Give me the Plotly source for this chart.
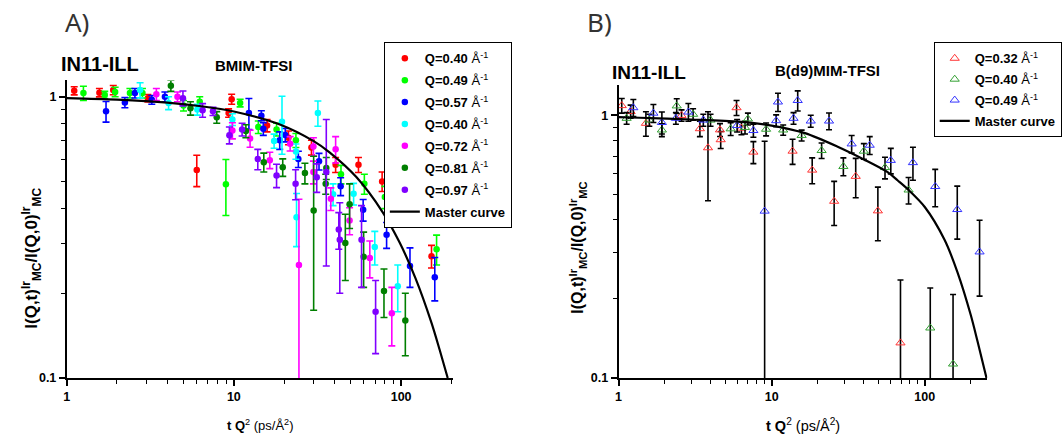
import plotly.graph_objects as go

FONT = "Liberation Sans, Arial, sans-serif"

# ---------------- Panel A data (BMIM-TFSI) ----------------
a_red_x = [1.11, 1.57, 1.9, 3.06, 6.0, 9.3, 9.7, 15.8, 21.2, 29.1, 40.6, 55.6, 77, 152]
a_red_y = [1.05, 1.034, 1.056, 0.988, 0.549, 0.875, 0.98, 0.79, 0.715, 0.66, 0.573, 0.573, 0.50, 0.271]
a_red_e = [0.035, 0.035, 0.04, 0.03, 0.07, 0.03, 0.04, 0.04, 0.04, 0.04, 0.035, 0.035, 0.04, 0.025]

a_grn_x = [1.26, 1.69, 1.95, 2.39, 2.84, 5.0, 6.25, 8.96, 10.9, 14.0, 18.0, 23.5, 43.7, 60.3, 80, 163]
a_grn_y = [1.03, 1.015, 1.04, 1.03, 1.03, 0.93, 0.96, 0.488, 0.95, 0.78, 0.765, 0.70, 0.53, 0.49, 0.44, 0.287]
a_grn_e = [0.06, 0.03, 0.04, 0.04, 0.04, 0.04, 0.04, 0.11, 0.03, 0.04, 0.04, 0.04, 0.04, 0.04, 0.04, 0.035]

a_blu_x = [1.72, 2.23, 2.56, 3.23, 3.87, 12.3, 14.6, 15.0, 18.8, 20.3, 24.3, 32.3, 43.5, 59.3, 81.9, 113, 159]
a_blu_y = [0.887, 0.954, 1.03, 0.975, 1.0, 0.875, 0.856, 0.769, 0.70, 0.731, 0.60, 0.589, 0.48, 0.396, 0.323, 0.25, 0.228]
a_blu_e = [0.075, 0.04, 0.04, 0.035, 0.04, 0.11, 0.035, 0.04, 0.05, 0.04, 0.04, 0.04, 0.035, 0.035, 0.034, 0.04, 0.04]

a_cyn_x = [2.75, 4.07, 6.05, 9.8, 17.4, 19.4, 23.5, 23.7, 31.8, 39.2, 52, 69.6, 95.5]
a_cyn_y = [1.056, 0.95, 0.90, 0.83, 0.696, 0.814, 0.639, 0.373, 0.875, 0.45, 0.452, 0.292, 0.212]
a_cyn_e = [0.065, 0.05, 0.04, 0.04, 0.04, 0.19, 0.04, 0.08, 0.09, 0.04, 0.04, 0.04, 0.04]

a_mag_x = [3.44, 4.6, 9.8, 12.5, 16.4, 21.7, 24.5, 29.9, 29.9, 38, 40.6, 49.2, 65, 88]
a_mag_y = [1.02, 1.0, 0.758, 0.711, 0.595, 0.681, 0.252, 0.665, 0.54, 0.434, 0.651, 0.363, 0.267, 0.17]
a_mag_e = [0.05, 0.04, 0.05, 0.05, 0.04, 0.04, 0.18, 0.05, 0.05, 0.04, 0.07, 0.04, 0.04, 0.04]

a_dkg_x = [4.2, 5.5, 7.9, 11.8, 15.1, 19.6, 26.6, 30.0, 35.4, 35.7, 46.4, 49.2, 59.7, 79, 106]
a_dkg_y = [1.095, 0.91, 0.845, 0.755, 0.585, 0.561, 0.535, 0.394, 0.49, 0.558, 0.302, 0.415, 0.27, 0.204, 0.16]
a_dkg_e = [0.05, 0.05, 0.04, 0.04, 0.045, 0.04, 0.045, 0.22, 0.04, 0.05, 0.08, 0.075, 0.06, 0.04, 0.04]

a_pur_x = [4.96, 6.5, 7.5, 9.4, 11.2, 13.9, 18.0, 23.4, 31.3, 35.7, 42.4, 43.0, 58, 70.4]
a_pur_y = [0.988, 0.895, 0.887, 0.73, 0.765, 0.60, 0.525, 0.49, 0.517, 0.54, 0.337, 0.31, 0.31, 0.172]
a_pur_e = [0.06, 0.05, 0.03, 0.05, 0.04, 0.05, 0.05, 0.06, 0.06, 0.29, 0.05, 0.11, 0.10, 0.05]

a_master_x = [1, 2, 4, 6.4, 10, 19, 30, 37.5, 54, 77.5, 98, 122, 152, 170, 190]
a_master_y = [0.988, 0.976, 0.953, 0.925, 0.886, 0.795, 0.695, 0.633, 0.518, 0.389, 0.303, 0.226, 0.157, 0.126, 0.10]

a_labels = ["0.40", "0.49", "0.57", "0.40", "0.72", "0.81", "0.97"]
a_colors = ["#ff0000", "#00ff00", "#0000ff", "#00ffff", "#ff00ff", "#007f00", "#7f00ff"]

# ---------------- Panel B data (B(d9)MIM-TFSI) ----------------
b_red_x = [1.05, 1.2, 1.51, 2.58, 3.4, 3.84, 4.6, 4.65, 5.9, 6.35, 7.6, 13.7, 18.4, 25.6, 35.4, 49.4, 69.4]
b_red_y = [1.09, 1.035, 0.933, 1.0, 0.89, 0.753, 0.881, 0.808, 1.07, 0.894, 0.725, 0.731, 0.619, 0.471, 0.586, 0.433, 0.136]
b_red_e = [0.07, 0.06, 0.1, 0.05, 0.06, 0.28, 0.05, 0.06, 0.07, 0.05, 0.07, 0.08, 0.07, 0.09, 0.1, 0.1, 0.1]

b_grn_x = [1.13, 1.59, 1.92, 2.4, 3.07, 3.99, 5.4, 6.7, 7.0, 9.2, 11.9, 15.7, 21.2, 29.4, 40, 55, 78.4, 108.6, 153]
b_grn_y = [0.975, 0.96, 0.88, 1.087, 1.01, 0.96, 0.889, 0.90, 0.97, 0.886, 0.88, 0.839, 0.735, 0.639, 0.731, 0.633, 0.52, 0.155, 0.113]
b_grn_e = [0.05, 0.05, 0.05, 0.07, 0.05, 0.05, 0.05, 0.05, 0.05, 0.05, 0.04, 0.04, 0.05, 0.05, 0.05, 0.06, 0.06, 0.065, 0.095]

b_blu_x = [1.25, 1.69, 1.92, 2.37, 2.86, 3.58, 5.95, 7.6, 9.0, 10.7, 11.0, 13.9, 14.8, 18.0, 23.7, 33.3, 43.7, 60, 83.7, 117, 163, 228]
b_blu_y = [1.07, 1.02, 0.94, 0.975, 1.03, 0.96, 0.915, 0.876, 0.432, 0.955, 1.125, 0.975, 1.14, 0.952, 0.952, 0.779, 0.77, 0.674, 0.661, 0.536, 0.438, 0.302]
b_blu_e = [0.08, 0.08, 0.09, 0.05, 0.08, 0.05, 0.05, 0.05, 0.365, 0.05, 0.09, 0.05, 0.1, 0.05, 0.07, 0.06, 0.06, 0.075, 0.095, 0.087, 0.1, 0.097]

b_master_x = [1, 1.37, 3, 6.1, 10, 16.5, 27, 40, 57.5, 66.6, 78.4, 100, 134.6, 163.8, 199.5, 221, 253]
b_master_y = [0.985, 0.98, 0.965, 0.947, 0.915, 0.856, 0.76, 0.68, 0.607, 0.565, 0.52, 0.448, 0.336, 0.252, 0.174, 0.138, 0.10]

b_labels = ["0.32", "0.40", "0.49"]
b_colors = ["#ff3333", "#33a033", "#3333ff"]

x_ticks = [1, 10, 100]
x_minor = [2, 3, 4, 5, 6, 7, 8, 9, 20, 30, 40, 50, 60, 70, 80, 90, 200]
y_ticks = [0.1, 1]
y_minor = [0.2, 0.3, 0.4, 0.5, 0.6, 0.7, 0.8, 0.9]

fig = go.Figure()

a_sets = [(a_red_x, a_red_y, a_red_e), (a_grn_x, a_grn_y, a_grn_e), (a_blu_x, a_blu_y, a_blu_e),
          (a_cyn_x, a_cyn_y, a_cyn_e), (a_mag_x, a_mag_y, a_mag_e), (a_dkg_x, a_dkg_y, a_dkg_e),
          (a_pur_x, a_pur_y, a_pur_e)]
for i, ((xs, ys, es), lab, col) in enumerate(zip(a_sets, a_labels, a_colors)):
    fig.add_trace(go.Scatter(
        x=xs, y=ys, mode="markers", xaxis="x", yaxis="y",
        marker=dict(color=col, size=6.5, symbol="circle"),
        error_y=dict(type="data", array=es, color=col, thickness=1.6, width=3.5),
        name=f"<b>Q={lab}</b> Å<sup>-1</sup>", legend="legend", legendgroup=f"a{i}"))
fig.add_trace(go.Scatter(x=a_master_x, y=a_master_y, mode="lines", xaxis="x", yaxis="y",
                         line=dict(color="black", width=2.2, shape="spline", smoothing=0.8),
                         name="<b>Master curve</b>", legend="legend", legendgroup="am"))

b_sets = [(b_red_x, b_red_y, b_red_e), (b_grn_x, b_grn_y, b_grn_e), (b_blu_x, b_blu_y, b_blu_e)]
for i, ((xs, ys, es), lab, col) in enumerate(zip(b_sets, b_labels, b_colors)):
    fig.add_trace(go.Scatter(
        x=xs, y=ys, mode="markers", xaxis="x2", yaxis="y2",
        marker=dict(color=col, size=8, symbol="triangle-up-open", line=dict(width=1)),
        error_y=dict(type="data", array=es, color="black", thickness=1.6, width=3),
        name=f"<b>Q={lab}</b> Å<sup>-1</sup>", legend="legend2", legendgroup=f"b{i}"))
fig.add_trace(go.Scatter(x=b_master_x, y=b_master_y, mode="lines", xaxis="x2", yaxis="y2",
                         line=dict(color="black", width=2.2, shape="spline", smoothing=0.8),
                         name="<b>Master curve</b>", legend="legend2", legendgroup="bm"))


def axis(domain, rng, tv, mv, anchor):
    return dict(type="log", domain=domain, range=rng, anchor=anchor,
                showline=True, linecolor="black", linewidth=1.6, mirror=False,
                showgrid=False, zeroline=False,
                ticks="outside", ticklen=6, tickwidth=1.5, tickcolor="black",
                tickmode="array", tickvals=tv, ticktext=[f"{v:g}" for v in tv],
                tickfont=dict(family=FONT, size=12.5, color="black", weight="bold"),
                minor=dict(tickmode="array", tickvals=mv, ticks="outside", ticklen=4,
                           tickwidth=1.2, tickcolor="black", showgrid=False))


W, H = 1062, 445
fig.update_layout(
    width=W, height=H, margin=dict(l=0, r=0, t=0, b=0),
    paper_bgcolor="white", plot_bgcolor="white",
    xaxis=axis([64 / W, 453 / W], [0, 2.313], x_ticks, x_minor, "y"),
    yaxis=axis([1 - 384 / H, 1 - 81.7 / H], [-1, 0.058], y_ticks, y_minor, "x"),
    xaxis2=axis([619 / W, 990 / W], [0, 2.409], x_ticks, x_minor, "y2"),
    yaxis2=axis([1 - 384 / H, 1 - 86.7 / H], [-1, 0.1146], y_ticks, y_minor, "x2"),
    legend=dict(x=383 / W, y=1 - 43 / H, xanchor="left", yanchor="top",
                bgcolor="white", bordercolor="black", borderwidth=1,
                font=dict(family=FONT, size=13, color="black"), tracegroupgap=2),
    legend2=dict(x=936 / W, y=1 - 43 / H, xanchor="left", yanchor="top",
                 bgcolor="white", bordercolor="black", borderwidth=1,
                 font=dict(family=FONT, size=13, color="black"), tracegroupgap=1),
    showlegend=True,
)

ytitle = "<b>I(Q,t)<sup>Ir</sup><sub>MC</sub>/I(Q,0)<sup>Ir</sup><sub>MC</sub></b>"
xtitle = "<b>t Q</b><sup>2</sup> (ps/Å<sup>2</sup>)"
ann = [
    dict(text="A)", x=60 / W, y=1 - 2 / H, xanchor="left", yanchor="top",
         font=dict(family="Noto Sans", size=26, color="#333")),
    dict(text="B)", x=585 / W, y=1 - 2 / H, xanchor="left", yanchor="top",
         font=dict(family="Noto Sans", size=26, color="#333")),
    dict(text="<b>IN11-ILL</b>", x=56 / W, y=1 - 65.5 / H, xanchor="left", yanchor="middle",
         font=dict(family=FONT, size=20, color="black")),
    dict(text="<b>BMIM-TFSI</b>", x=211 / W, y=1 - 67 / H, xanchor="left", yanchor="middle",
         font=dict(family=FONT, size=15, color="black")),
    dict(text="<b>IN11-ILL</b>", x=610 / W, y=1 - 74 / H, xanchor="left", yanchor="middle",
         font=dict(family=FONT, size=19, color="black")),
    dict(text="<b>B(d9)MIM-TFSI</b>", x=774 / W, y=1 - 72 / H, xanchor="left", yanchor="middle",
         font=dict(family=FONT, size=15, color="black")),
    dict(text=ytitle, x=29 / W, y=1 - 262 / H, xanchor="center", yanchor="middle", textangle=-90,
         font=dict(family=FONT, size=17, color="black")),
    dict(text=ytitle, x=578 / W, y=1 - 252 / H, xanchor="center", yanchor="middle", textangle=-90,
         font=dict(family=FONT, size=16, color="black")),
    dict(text=xtitle, x=259 / W, y=1 - 432 / H, xanchor="center", yanchor="middle",
         font=dict(family=FONT, size=13, color="black")),
    dict(text=xtitle, x=805 / W, y=1 - 432 / H, xanchor="center", yanchor="middle",
         font=dict(family=FONT, size=14.5, color="black")),
]
for a in ann:
    a.update(xref="paper", yref="paper", showarrow=False)
fig.update_layout(annotations=ann)

fig.write_html("out.html", config={"displayModeBar": False},
               post_script="document.body.style.margin='0';")
